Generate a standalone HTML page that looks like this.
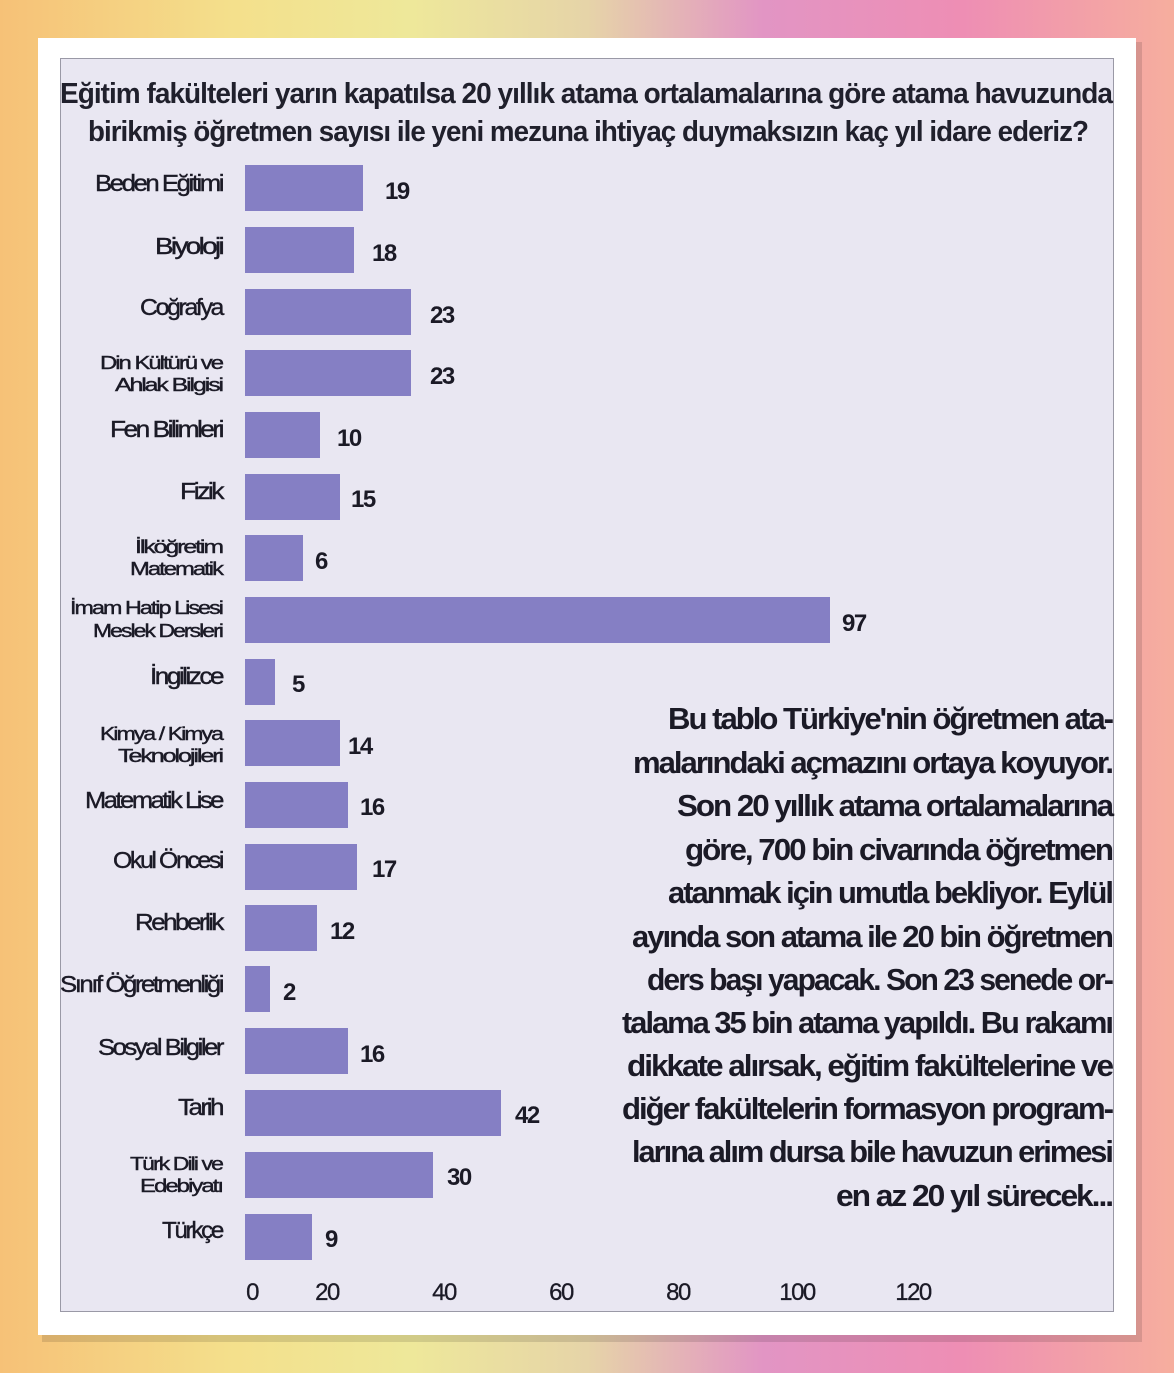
<!DOCTYPE html>
<html><head><meta charset="utf-8"><style>
html,body{margin:0;padding:0}
body{width:1174px;height:1373px;overflow:hidden;background:linear-gradient(90deg,#f6c177 0%,#f4e08c 20%,#eee89a 35%,#e6d4a8 50%,#e295c4 65%,#ee8eb4 82%,#f6ae9e 100%);position:relative}
svg{position:absolute;left:0;top:0}
</style></head><body>
<svg width="1174" height="1373" xmlns="http://www.w3.org/2000/svg" font-family="'Liberation Sans', sans-serif" fill="#1b1a26">
<rect x="42" y="42" width="1100" height="1300" fill="#000" opacity="0.12"/>
<rect x="38" y="38" width="1098" height="1297" fill="#fff"/>
<rect x="60.5" y="58.5" width="1053" height="1253" fill="#e9e7f2" stroke="#9a99a6" stroke-width="1"/>
<g font-size="29" letter-spacing="-1" fill="#20202c">
<text x="60" y="103" textLength="1052" lengthAdjust="spacingAndGlyphs" style="font-weight:600">Eğitim fakülteleri yarın kapatılsa 20 yıllık atama ortalamalarına göre atama havuzunda</text>
<text x="88" y="141" textLength="1000" lengthAdjust="spacingAndGlyphs" style="font-weight:600">birikmiş öğretmen sayısı ile yeni mezuna ihtiyaç duymaksızın <tspan font-weight="bold">kaç yıl</tspan> idare ederiz?</text>
</g>
<g fill="#857fc4">
<rect x="245" y="165" width="118" height="46"/>
<rect x="245" y="227" width="109" height="46"/>
<rect x="245" y="289" width="166" height="46"/>
<rect x="245" y="350" width="166" height="46"/>
<rect x="245" y="412" width="75" height="46"/>
<rect x="245" y="474" width="95" height="46"/>
<rect x="245" y="535" width="58" height="46"/>
<rect x="245" y="597" width="585" height="46"/>
<rect x="245" y="659" width="30" height="46"/>
<rect x="245" y="720" width="95" height="46"/>
<rect x="245" y="782" width="103" height="46"/>
<rect x="245" y="844" width="112" height="46"/>
<rect x="245" y="905" width="72" height="46"/>
<rect x="245" y="966" width="25" height="46"/>
<rect x="245" y="1028" width="103" height="46"/>
<rect x="245" y="1090" width="256" height="46"/>
<rect x="245" y="1152" width="188" height="46"/>
<rect x="245" y="1214" width="67" height="46"/>
</g>
<g font-size="24" font-weight="bold" letter-spacing="-1.5">
<text x="385" y="199">19</text>
<text x="372" y="261">18</text>
<text x="430" y="323">23</text>
<text x="430" y="384">23</text>
<text x="337" y="446">10</text>
<text x="351" y="507">15</text>
<text x="315" y="569">6</text>
<text x="842" y="631">97</text>
<text x="292" y="692">5</text>
<text x="348" y="754">14</text>
<text x="360" y="815">16</text>
<text x="372" y="877">17</text>
<text x="330" y="939">12</text>
<text x="283" y="1000">2</text>
<text x="360" y="1062">16</text>
<text x="515" y="1123">42</text>
<text x="447" y="1185">30</text>
<text x="325" y="1247">9</text>
</g>
<g font-size="23" text-anchor="end" letter-spacing="-2.2" stroke="#1b1a26" stroke-width="0.4">
<text x="222" y="191" textLength="127" lengthAdjust="spacingAndGlyphs">Beden Eğitimi</text>
<text x="222" y="254" textLength="67" lengthAdjust="spacingAndGlyphs">Biyoloji</text>
<text x="222" y="315" textLength="82" lengthAdjust="spacingAndGlyphs">Coğrafya</text>
<text x="222" y="437" textLength="112" lengthAdjust="spacingAndGlyphs">Fen Bilimleri</text>
<text x="222" y="499" textLength="42" lengthAdjust="spacingAndGlyphs">Fizik</text>
<text x="222" y="684" textLength="72" lengthAdjust="spacingAndGlyphs">İngilizce</text>
<text x="222" y="808" textLength="137" lengthAdjust="spacingAndGlyphs">Matematik Lise</text>
<text x="222" y="868" textLength="109" lengthAdjust="spacingAndGlyphs">Okul Öncesi</text>
<text x="222" y="930" textLength="87" lengthAdjust="spacingAndGlyphs">Rehberlik</text>
<text x="222" y="992" textLength="162" lengthAdjust="spacingAndGlyphs">Sınıf Öğretmenliği</text>
<text x="222" y="1055" textLength="124" lengthAdjust="spacingAndGlyphs">Sosyal Bilgiler</text>
<text x="222" y="1115" textLength="44" lengthAdjust="spacingAndGlyphs">Tarih</text>
<text x="222" y="1238" textLength="60" lengthAdjust="spacingAndGlyphs">Türkçe</text>
</g>
<g font-size="18" text-anchor="end" letter-spacing="-1.5" stroke="#1b1a26" stroke-width="0.4">
<text x="222" y="369" textLength="122" lengthAdjust="spacingAndGlyphs">Din Kültürü ve</text>
<text x="222" y="391" textLength="107" lengthAdjust="spacingAndGlyphs">Ahlak Bilgisi</text>
<text x="222" y="553" textLength="87" lengthAdjust="spacingAndGlyphs">İlköğretim</text>
<text x="222" y="575" textLength="92" lengthAdjust="spacingAndGlyphs">Matematik</text>
<text x="222" y="614" textLength="152" lengthAdjust="spacingAndGlyphs">İmam Hatip Lisesi</text>
<text x="222" y="637" textLength="129" lengthAdjust="spacingAndGlyphs">Meslek Dersleri</text>
<text x="222" y="740" textLength="122" lengthAdjust="spacingAndGlyphs">Kimya / Kimya</text>
<text x="222" y="762" textLength="104" lengthAdjust="spacingAndGlyphs">Teknolojileri</text>
<text x="222" y="1170" textLength="92" lengthAdjust="spacingAndGlyphs">Türk Dili ve</text>
<text x="222" y="1192" textLength="82" lengthAdjust="spacingAndGlyphs">Edebiyatı</text>
</g>
<g font-size="24" text-anchor="middle" letter-spacing="-1.5" stroke="#1b1a26" stroke-width="0.3">
<text x="252" y="1300">0</text>
<text x="327" y="1300">20</text>
<text x="444" y="1300">40</text>
<text x="561" y="1300">60</text>
<text x="678" y="1300">80</text>
<text x="797" y="1300">100</text>
<text x="913" y="1300">120</text>
</g>
<g font-size="31" text-anchor="end" style="font-weight:600" letter-spacing="-2">
<text x="1112" y="729" textLength="444" lengthAdjust="spacingAndGlyphs">Bu tablo Türkiye'nin öğretmen ata-</text>
<text x="1112" y="773" textLength="479" lengthAdjust="spacingAndGlyphs">malarındaki açmazını ortaya koyuyor.</text>
<text x="1112" y="816" textLength="435" lengthAdjust="spacingAndGlyphs">Son 20 yıllık atama ortalamalarına</text>
<text x="1112" y="860" textLength="427" lengthAdjust="spacingAndGlyphs">göre, 700 bin civarında öğretmen</text>
<text x="1112" y="903" textLength="444" lengthAdjust="spacingAndGlyphs">atanmak için umutla bekliyor. Eylül</text>
<text x="1112" y="947" textLength="480" lengthAdjust="spacingAndGlyphs">ayında son atama ile 20 bin öğretmen</text>
<text x="1112" y="990" textLength="465" lengthAdjust="spacingAndGlyphs">ders başı yapacak. Son 23 senede or-</text>
<text x="1112" y="1033" textLength="490" lengthAdjust="spacingAndGlyphs">talama 35 bin atama yapıldı. Bu rakamı</text>
<text x="1112" y="1076" textLength="485" lengthAdjust="spacingAndGlyphs">dikkate alırsak, eğitim fakültelerine ve</text>
<text x="1112" y="1119" textLength="490" lengthAdjust="spacingAndGlyphs">diğer fakültelerin formasyon program-</text>
<text x="1112" y="1162" textLength="480" lengthAdjust="spacingAndGlyphs">larına alım dursa bile havuzun erimesi</text>
<text x="1112" y="1206" textLength="276" lengthAdjust="spacingAndGlyphs">en az 20 yıl sürecek...</text>
</g>
</svg>
</body></html>
